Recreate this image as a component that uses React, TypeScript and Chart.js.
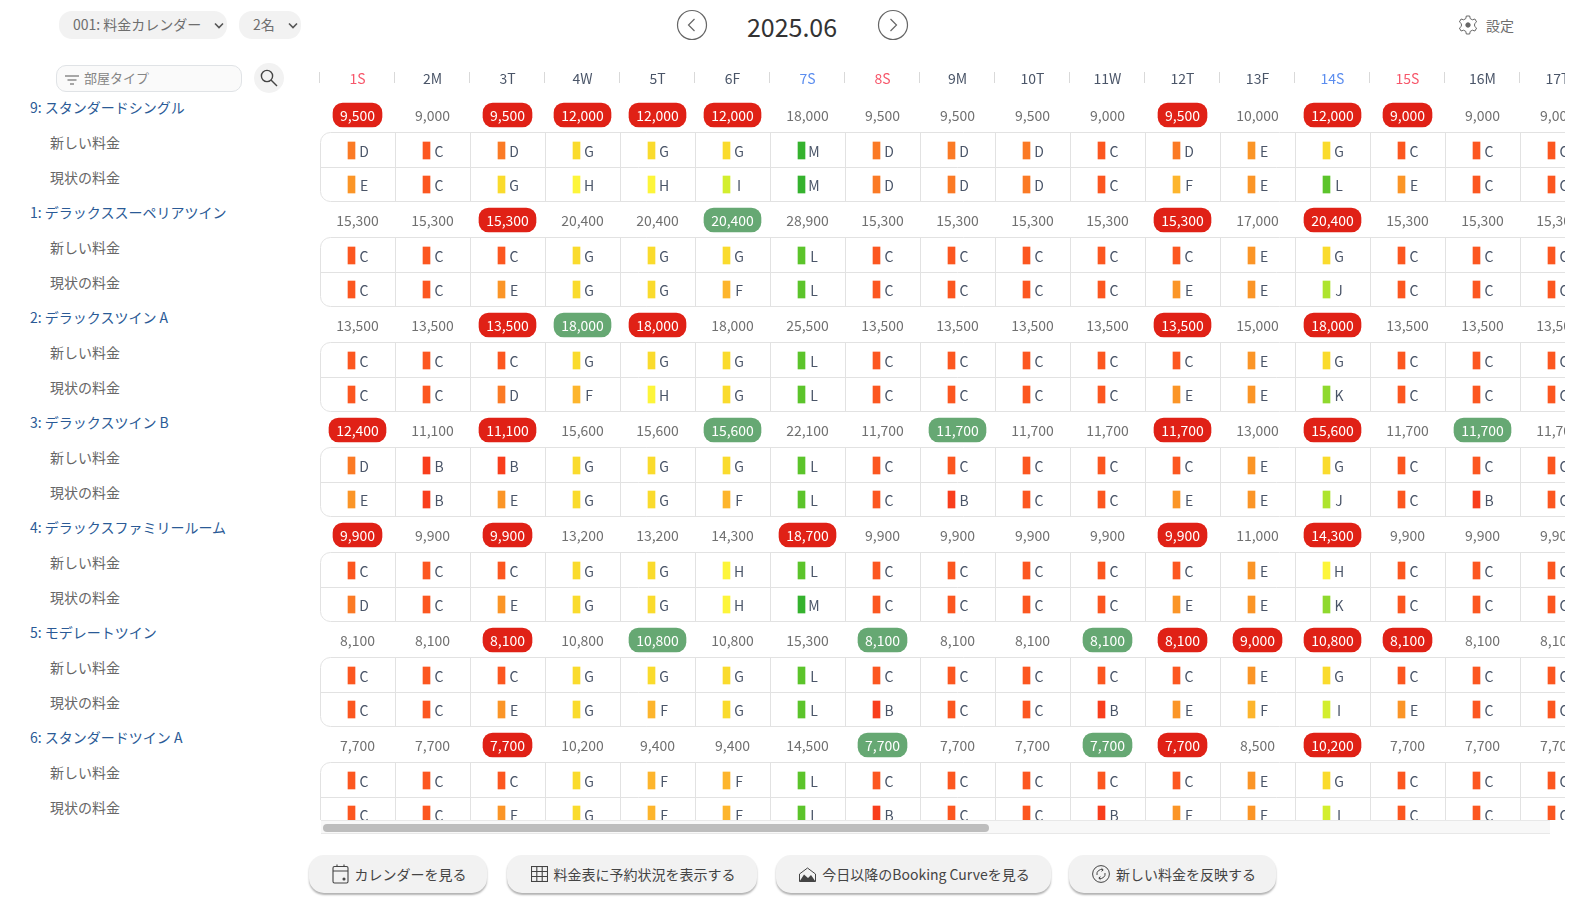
import { useEffect, useRef } from 'react';
import Chart from 'chart.js/auto';

const FONT = '"Noto Sans CJK JP", "Noto Sans", sans-serif';

const days = ['1S', '2M', '3T', '4W', '5T', '6F', '7S', '8S', '9M', '10T', '11W', '12T', '13F', '14S', '15S', '16M', '17T'];
const dayColors = ['#f7566a', '#4a5568', '#4a5568', '#4a5568', '#4a5568', '#4a5568', '#5b8def', '#f7566a', '#4a5568', '#4a5568', '#4a5568', '#4a5568', '#4a5568', '#5b8def', '#f7566a', '#4a5568', '#4a5568'];

const roomTypes = ['9: スタンダードシングル', '1: デラックススーペリアツイン', '2: デラックスツイン A', '3: デラックスツイン B', '4: デラックスファミリールーム', '5: モデレートツイン', '6: スタンダードツイン A'];
const rowNames = ['新しい料金', '現状の料金'];

const prices = [
  [9500, 9000, 9500, 12000, 12000, 12000, 18000, 9500, 9500, 9500, 9000, 9500, 10000, 12000, 9000, 9000, 9000],
  [15300, 15300, 15300, 20400, 20400, 20400, 28900, 15300, 15300, 15300, 15300, 15300, 17000, 20400, 15300, 15300, 15300],
  [13500, 13500, 13500, 18000, 18000, 18000, 25500, 13500, 13500, 13500, 13500, 13500, 15000, 18000, 13500, 13500, 13500],
  [12400, 11100, 11100, 15600, 15600, 15600, 22100, 11700, 11700, 11700, 11700, 11700, 13000, 15600, 11700, 11700, 11700],
  [9900, 9900, 9900, 13200, 13200, 14300, 18700, 9900, 9900, 9900, 9900, 9900, 11000, 14300, 9900, 9900, 9900],
  [8100, 8100, 8100, 10800, 10800, 10800, 15300, 8100, 8100, 8100, 8100, 8100, 9000, 10800, 8100, 8100, 8100],
  [7700, 7700, 7700, 10200, 9400, 9400, 14500, 7700, 7700, 7700, 7700, 7700, 8500, 10200, 7700, 7700, 7700],
];

// r = red badge, g = green badge, . = plain
const badges = [
  'r.rrrr.....r.rr..',
  '..r..g.....r.r...',
  '..rgr......r.r...',
  'r.r..g..g..r.r.g.',
  'r.r...r....r.r...',
  '..r.g..g..grrrr..',
  '..r....g..gr.r...',
];

const newRanks = [
  'DCDGGGMDDDCDEGCCC',
  'CCCGGGLCCCCCEGCCC',
  'CCCGGGLCCCCCEGCCC',
  'DBBGGGLCCCCCEGCCC',
  'CCCGGHLCCCCCEHCCC',
  'CCCGGGLCCCCCEGCCC',
  'CCCGFFLCCCCCEGCCC',
];
const currentRanks = [
  'ECGHHIMDDDCFELECC',
  'CCEGGFLCCCCEEJCCC',
  'CCDFHGLCCCCEEKCCC',
  'EBEGGFLCBCCEEJCBC',
  'DCEGGHMCCCCEEKCCC',
  'CCEGFGLBCCBEFIECC',
  'CCEGFFLBCCBEEICCC',
];

const rankColors: Record<string, string> = {
  B: '#f93e1c',
  C: '#fc5720',
  D: '#fb7a25',
  E: '#fb9527',
  F: '#fdb52d',
  G: '#fadb2d',
  H: '#fdf53a',
  I: '#d3ee2e',
  J: '#aee42e',
  K: '#8fd92e',
  L: '#5cc42b',
  M: '#35b22e',
};

const badgeColors: Record<string, string> = { r: '#e02116', g: '#66a873' };

// row position on the y scale: price, new rate, current rate
const rowPos = [0, 1.014, 1.986];

const COL_W = 75;
const ROW_H = 35;
const PAD_L = 2;
const CHART_W = COL_W * days.length + PAD_L;
const CHART_H = 770;
const AXIS_H = 18;
const Y_MIN = -32 / ROW_H;
const Y_MAX = Y_MIN + (CHART_H - AXIS_H) / ROW_H;

const fmt = (n: number) => n.toLocaleString('en-US');

function badgeData(wide: boolean) {
  const out: { x: number; y: number[] }[] = [];
  const colors: string[] = [];
  prices.forEach((row, g) => {
    row.forEach((p, i) => {
      const b = badges[g][i];
      if (b === '.' || p >= 10000 !== wide) return;
      out.push({ x: i, y: [g * 3 - 0.343, g * 3 + 0.343] });
      colors.push(badgeColors[b]);
    });
  });
  return { data: out, colors };
}

function rankData() {
  const out: { x: number; y: number[] }[] = [];
  const colors: string[] = [];
  [newRanks, currentRanks].forEach((ranks, r) => {
    ranks.forEach((line, g) => {
      line.split('').forEach((k, i) => {
        const mid = g * 3 + rowPos[r + 1];
        out.push({ x: i, y: [mid - 0.243, mid + 0.243] });
        colors.push(rankColors[k]);
      });
    });
  });
  return { data: out, colors };
}

const tablePlugin = {
  id: 'rateTable',
  beforeDatasetsDraw(chart: any) {
    const { ctx, scales, chartArea } = chart;
    const x = scales.x;
    const y = scales.y;
    const snap = (v: number) => Math.floor(y.getPixelForValue(v)) + 0.5;
    const edgeOf = (i: number) => Math.round(x.getPixelForValue(i) - COL_W / 2) + 0.5;
    ctx.save();
    ctx.lineWidth = 1;

    // header separators sit one pixel left of the cell borders
    ctx.strokeStyle = '#d9d9d9';
    ctx.beginPath();
    days.forEach((_, i) => {
      ctx.moveTo(edgeOf(i) - 1, x.bottom - 11);
      ctx.lineTo(edgeOf(i) - 1, x.bottom);
    });
    ctx.stroke();

    ctx.strokeStyle = '#e2e2e2';
    prices.forEach((_, g) => {
      const top = snap(g * 3 + 0.5);
      const mid = snap(g * 3 + 1.5);
      const bottom = snap(g * 3 + 2.471);
      ctx.beginPath();
      ctx.roundRect(chartArea.left + 0.5, top, CHART_W + 20, bottom - top, 10);
      ctx.moveTo(chartArea.left, mid);
      ctx.lineTo(CHART_W, mid);
      days.forEach((__, i) => {
        if (i === 0) return;
        ctx.moveTo(edgeOf(i), top);
        ctx.lineTo(edgeOf(i), bottom);
      });
      ctx.stroke();
    });
    ctx.restore();
  },
  afterDatasetsDraw(chart: any) {
    const { ctx, scales } = chart;
    const x = scales.x;
    const y = scales.y;
    ctx.save();
    ctx.font = `14px ${FONT}`;
    ctx.textAlign = 'center';
    ctx.textBaseline = 'middle';
    prices.forEach((row, g) => {
      row.forEach((p, i) => {
        ctx.fillStyle = badges[g][i] === '.' ? '#707070' : '#ffffff';
        ctx.fillText(fmt(p), x.getPixelForValue(i), y.getPixelForValue(g * 3) + 1);
        ctx.fillStyle = '#4a5568';
        const px = x.getPixelForValue(i) + 6.5;
        ctx.fillText(newRanks[g][i], px, y.getPixelForValue(g * 3 + rowPos[1]) + 1);
        ctx.fillText(currentRanks[g][i], px, y.getPixelForValue(g * 3 + rowPos[2]) + 1);
      });
    });
    ctx.restore();
  },
};

function RateChart() {
  const chartRef = useRef<HTMLCanvasElement>(null);

  useEffect(() => {
    if (!chartRef.current) return;
    const narrow = badgeData(false);
    const wide = badgeData(true);
    const ranks = rankData();
    const barBase = { grouped: false, borderSkipped: false, barPercentage: 1, categoryPercentage: 1 };

    const chart = new Chart(chartRef.current, {
      type: 'bar',
      data: {
        labels: days,
        datasets: [
          { ...barBase, xAxisID: 'xBadge', data: narrow.data, backgroundColor: narrow.colors, maxBarThickness: 49, borderRadius: { topLeft: 10, topRight: 10, bottomLeft: 10, bottomRight: 10 } },
          { ...barBase, xAxisID: 'xBadge', data: wide.data, backgroundColor: wide.colors, maxBarThickness: 57, borderRadius: { topLeft: 10, topRight: 10, bottomLeft: 10, bottomRight: 10 } },
          { ...barBase, xAxisID: 'xRank', data: ranks.data, backgroundColor: ranks.colors, maxBarThickness: 7 },
        ] as any,
      },
      options: {
        animation: false,
        responsive: false,
        events: [],
        layout: { padding: { left: PAD_L } },
        plugins: { legend: { display: false }, tooltip: { enabled: false } },
        scales: {
          x: {
            type: 'category',
            position: 'top',
            offset: true,
            border: { display: false },
            grid: { display: false },
            ticks: {
              autoSkip: false,
              maxRotation: 0,
              mirror: true,
              padding: -13,
              color: (c: any) => dayColors[c.index],
              font: { family: FONT, size: 14 },
            },
            afterFit: (s: any) => {
              s.height = AXIS_H;
            },
          },
          // same columns as x, only used to place the badges and rank bars
          xBadge: { type: 'linear', display: false, offset: false, min: -0.5, max: days.length - 0.5, grid: { offset: false } },
          xRank: { type: 'linear', display: false, offset: false, min: -0.5 + 6 / COL_W, max: days.length - 0.5 + 6 / COL_W, grid: { offset: false } },
          y: { type: 'linear', display: false, reverse: true, beginAtZero: false, min: Y_MIN, max: Y_MAX },
        },
      } as any,
      plugins: [tablePlugin],
    });

    return () => {
      chart.destroy();
    };
  }, []);

  return <canvas ref={chartRef} width={CHART_W} height={CHART_H} style={{ display: 'block', width: CHART_W, height: CHART_H }} />;
}

const abs = (left: number, top: number, width?: number, height?: number): any => ({ position: 'absolute', left, top, width, height });

function Chevron({ x, y }: { x: number; y: number }) {
  return (
    <svg style={abs(x, y, 10, 7)} viewBox="0 0 10 7">
      <path d="M1 1.5 L5 5.5 L9 1.5" fill="none" stroke="#555" strokeWidth="1.6" />
    </svg>
  );
}

function Arrow({ x, dir }: { x: number; dir: 'l' | 'r' }) {
  return (
    <svg style={abs(x - 16, 9, 32, 32)} viewBox="0 0 32 32">
      <circle cx="16" cy="16" r="14.5" fill="none" stroke="#666" strokeWidth="1.2" />
      <path d={dir === 'l' ? 'M18.5 10 L12.5 16 L18.5 22' : 'M13.5 10 L19.5 16 L13.5 22'} fill="none" stroke="#666" strokeWidth="1.2" />
    </svg>
  );
}

const iconCalendar = (
  <svg width="17" height="20" viewBox="0 0 17 20" fill="none" stroke="#444" strokeWidth="1.1">
    <rect x="1" y="2.5" width="15" height="16.5" rx="1.5" />
    <path d="M1 7 H16 M5 0.5 V3 M12 0.5 V3" />
    <circle cx="12" cy="15" r="1" fill="#444" />
  </svg>
);
const iconGrid = (
  <svg width="17" height="16" viewBox="0 0 17 16" fill="none" stroke="#444" strokeWidth="1.1">
    <rect x="0.5" y="0.5" width="16" height="15" />
    <path d="M5.8 0.5 V15.5 M11.2 0.5 V15.5 M0.5 5.5 H16.5 M0.5 10.5 H16.5" />
  </svg>
);
const iconCurve = (
  <svg width="17" height="15" viewBox="0 0 17 15">
    <path d="M0.5 14.5 V7 L8.5 1 L16.5 7 V14.5 Z" fill="none" stroke="#444" strokeWidth="1" />
    <path d="M0.5 14.5 L5 7.5 L9 11 L12 8 L16.5 14.5 Z" fill="#444" />
  </svg>
);
const iconSync = (
  <svg width="18" height="18" viewBox="0 0 18 18" fill="none" stroke="#444" strokeWidth="1">
    <circle cx="9" cy="9" r="8.4" />
    <path d="M5 10 A4.5 4.5 0 0 1 11 4.8 M13 8 A4.5 4.5 0 0 1 7 13.2 M9.5 3.3 L11.2 4.9 L9.6 6.4 M8.5 14.7 L6.8 13.1 L8.4 11.6" />
  </svg>
);

const buttons = [
  { x: 308.5, w: 178, label: 'カレンダーを見る', icon: iconCalendar },
  { x: 506.5, w: 250, label: '料金表に予約状況を表示する', icon: iconGrid },
  { x: 775.5, w: 275, label: '今日以降のBooking Curveを見る', icon: iconCurve },
  { x: 1069, w: 207, label: '新しい料金を反映する', icon: iconSync },
];

export default function App() {
  const selectBox = { background: '#f2f2f2', borderRadius: 13, color: '#6e6e6e', fontSize: 14, lineHeight: '27px' };
  return (
    <div style={{ position: 'fixed', left: 0, top: 0, width: 1592, height: 903, background: '#fff', overflow: 'hidden', fontFamily: FONT }}>
      <div style={{ ...abs(59, 11, 168, 28), ...selectBox, paddingLeft: 14, boxSizing: 'border-box' }}>001: 料金カレンダー</div>
      <Chevron x={214} y={22} />
      <div style={{ ...abs(239, 11, 62, 28), ...selectBox, paddingLeft: 14, boxSizing: 'border-box' }}>2名</div>
      <Chevron x={288} y={22} />

      <Arrow x={692} dir="l" />
      <div style={{ ...abs(692, 7, 200, 38), textAlign: 'center', fontSize: 25, lineHeight: '38px', color: '#333' }}>2025.06</div>
      <Arrow x={893} dir="r" />

      <svg style={abs(1458, 15, 20, 20)} viewBox="0 0 20 20" fill="none" stroke="#666" strokeWidth="1">
        <path d="M8.3 1 H11.7 L12.2 3.6 L14.4 4.8 L16.9 4 L18.6 6.9 L16.6 8.7 V11.3 L18.6 13.1 L16.9 16 L14.4 15.2 L12.2 16.4 L11.7 19 H8.3 L7.8 16.4 L5.6 15.2 L3.1 16 L1.4 13.1 L3.4 11.3 V8.7 L1.4 6.9 L3.1 4 L5.6 4.8 L7.8 3.6 Z" />
        <circle cx="10" cy="10" r="2.2" fill="#666" />
      </svg>
      <div style={{ ...abs(1486, 15, 40, 20), fontSize: 14, lineHeight: '20px', color: '#6e6e6e' }}>設定</div>

      <div style={{ ...abs(56, 65, 186, 27), boxSizing: 'border-box', border: '1px solid #e0e3e6', borderRadius: 10, background: '#fafafa', color: '#858585', fontSize: 13, lineHeight: '23px', paddingLeft: 27 }}>部屋タイプ</div>
      <svg style={abs(65, 75, 14, 10)} viewBox="0 0 14 10" stroke="#555" strokeWidth="1.2">
        <path d="M0 1 H14 M2.5 5 H11.5 M5 9 H9" />
      </svg>
      <div style={{ ...abs(254, 63, 30, 30), borderRadius: 15, background: '#f2f2f2' }} />
      <svg style={abs(260, 69, 18, 18)} viewBox="0 0 18 18" fill="none" stroke="#444" strokeWidth="1.4">
        <circle cx="7" cy="7" r="5.6" />
        <path d="M11 11 L17 17" />
      </svg>

      {roomTypes.map((name, g) => (
        <div key={name}>
          <div style={{ ...abs(30, 97 + g * 105, 280, 20), fontSize: 14, lineHeight: '20px', color: '#2a5a96', whiteSpace: 'nowrap' }}>{name}</div>
          {rowNames.map((row, r) => (
            <div key={row} style={{ ...abs(50, 132 + r * 34.7 + g * 105, 200, 20), fontSize: 14, lineHeight: '20px', color: '#666' }}>{row}</div>
          ))}
        </div>
      ))}

      <div style={{ ...abs(318, 65, 1247, 755), overflow: 'hidden' }}>
        <RateChart />
      </div>

      <div style={{ ...abs(321, 820, 1229, 14), boxSizing: 'border-box', background: '#f8f8f8', borderTop: '1px solid #e8e8e8', borderBottom: '1px solid #e8e8e8' }} />
      <div style={{ ...abs(323, 824, 666, 8), borderRadius: 4, background: '#bdbdbd' }} />

      {buttons.map((b) => (
        <div
          key={b.label}
          style={{ ...abs(b.x, 855, b.w, 38), boxSizing: 'border-box', paddingLeft: 3, display: 'flex', alignItems: 'center', justifyContent: 'center', gap: 6, background: '#f2f2f2', borderRadius: 15, boxShadow: '0 2px 2px rgba(0,0,0,0.3)', fontSize: 14, color: '#444', whiteSpace: 'nowrap' }}
        >
          {b.icon}
          <span>{b.label}</span>
        </div>
      ))}
    </div>
  );
}
